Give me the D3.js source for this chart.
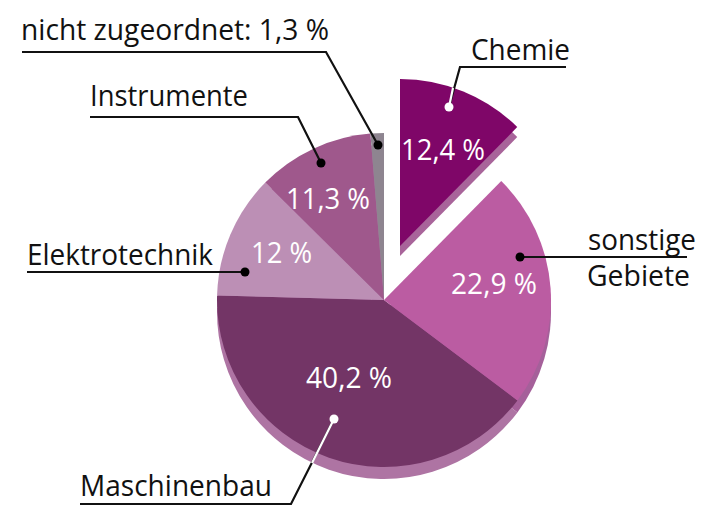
<!DOCTYPE html>
<html><head><meta charset="utf-8">
<script src="https://cdn.jsdelivr.net/npm/d3@7"></script>
<style>html,body{margin:0;background:#fff}svg{display:block}text{font-family:"Open Sans",sans-serif}</style>
</head><body><svg id="c" width="723" height="520"></svg>
<script>
const categories = ["Chemie","sonstige Gebiete","Maschinenbau","Elektrotechnik","Instrumente","nicht zugeordnet"];
const values = [12.4,22.9,40.2,12,11.3,1.3];
const valueLabels = ["12,4 %","22,9 %","40,2 %","12 %","11,3 %",""];
const topColors = ["#7f0668","#bb5ca2","#733566","#bc8fb5","#9f588c","#8e8590"];
const sideColors = ["#a8649a","#a5609a","#ae74a3","#ae74a3","#ae74a3","#ae74a3"];

// layout
const cx=384, cy=300, R=167, depth=12;
const explode=[[16,-54],[0,0],[0,0],[0,0],[0,0],[0,0]];
const valuePos=[[401,160,84],[451,294,86],[306,388,86],[251,263,61],[286,209,84]];
const nameLabels=[
 {t:"Chemie",x:471,y:60,w:99},
 {t:"sonstige",x:588,y:250,w:108},
 {t:"Gebiete",x:587,y:286,w:103},
 {t:"Maschinenbau",x:80,y:496,w:192},
 {t:"Elektrotechnik",x:27,y:265,w:186},
 {t:"Instrumente",x:90,y:106,w:158},
 {t:"nicht zugeordnet: 1,3 %",x:21,y:40,w:308}
];
const leaders=[
 {pts:[[449,107],[460,67],[566,67]],dot:"#fff",white:[[449,107],[453,88]]},
 {pts:[[520,257],[687,257]],dot:"#000"},
 {pts:[[334,419],[291,504],[80,504]],dot:"#fff",white:[[334,419],[312,463]]},
 {pts:[[245,272],[27,272]],dot:"#000"},
 {pts:[[321,163],[298,117],[90,117]],dot:"#000"},
 {pts:[[378,145],[326,52],[22,52]],dot:"#000"}
];

const svg=d3.select("#c");
const pie=d3.pie().sort(null).startAngle(0).endAngle(2*Math.PI)(values);
const arc=d3.arc().innerRadius(0).outerRadius(R);
const line=d3.line();

const drawOrder=[2,1,3,4,5,0];
// extruded sides
drawOrder.forEach(i=>{
  const [dx,dy]=explode[i], d=i===0?10:depth;
  svg.append("path").attr("d",arc(pie[i])).attr("fill",sideColors[i])
     .attr("transform",`translate(${cx+dx},${cy+dy+d})`);
});
// top faces
drawOrder.forEach(i=>{
  const [dx,dy]=explode[i];
  svg.append("path").attr("d",arc(pie[i])).attr("fill",topColors[i])
     .attr("transform",`translate(${cx+dx},${cy+dy})`);
});
// value labels
valuePos.forEach((p,i)=>{
  svg.append("text").attr("x",p[0]).attr("y",p[1]).attr("font-size",30).attr("fill","#fff")
    .attr("textLength",p[2]).attr("lengthAdjust","spacingAndGlyphs").text(valueLabels[i]);
});
// leaders
leaders.forEach(l=>{
  svg.append("path").attr("d",line(l.pts)).attr("fill","none").attr("stroke","#111").attr("stroke-width",2.2);
  if(l.white) svg.append("path").attr("d",line(l.white)).attr("fill","none").attr("stroke","#fff").attr("stroke-width",2.2);
  svg.append("circle").attr("cx",l.pts[0][0]).attr("cy",l.pts[0][1]).attr("r",4.5).attr("fill",l.dot);
});
// name labels
nameLabels.forEach(l=>{
  svg.append("text").attr("x",l.x).attr("y",l.y).attr("font-size",30).attr("fill","#111")
    .attr("textLength",l.w).attr("lengthAdjust","spacingAndGlyphs").text(l.t);
});
</script></body></html>
